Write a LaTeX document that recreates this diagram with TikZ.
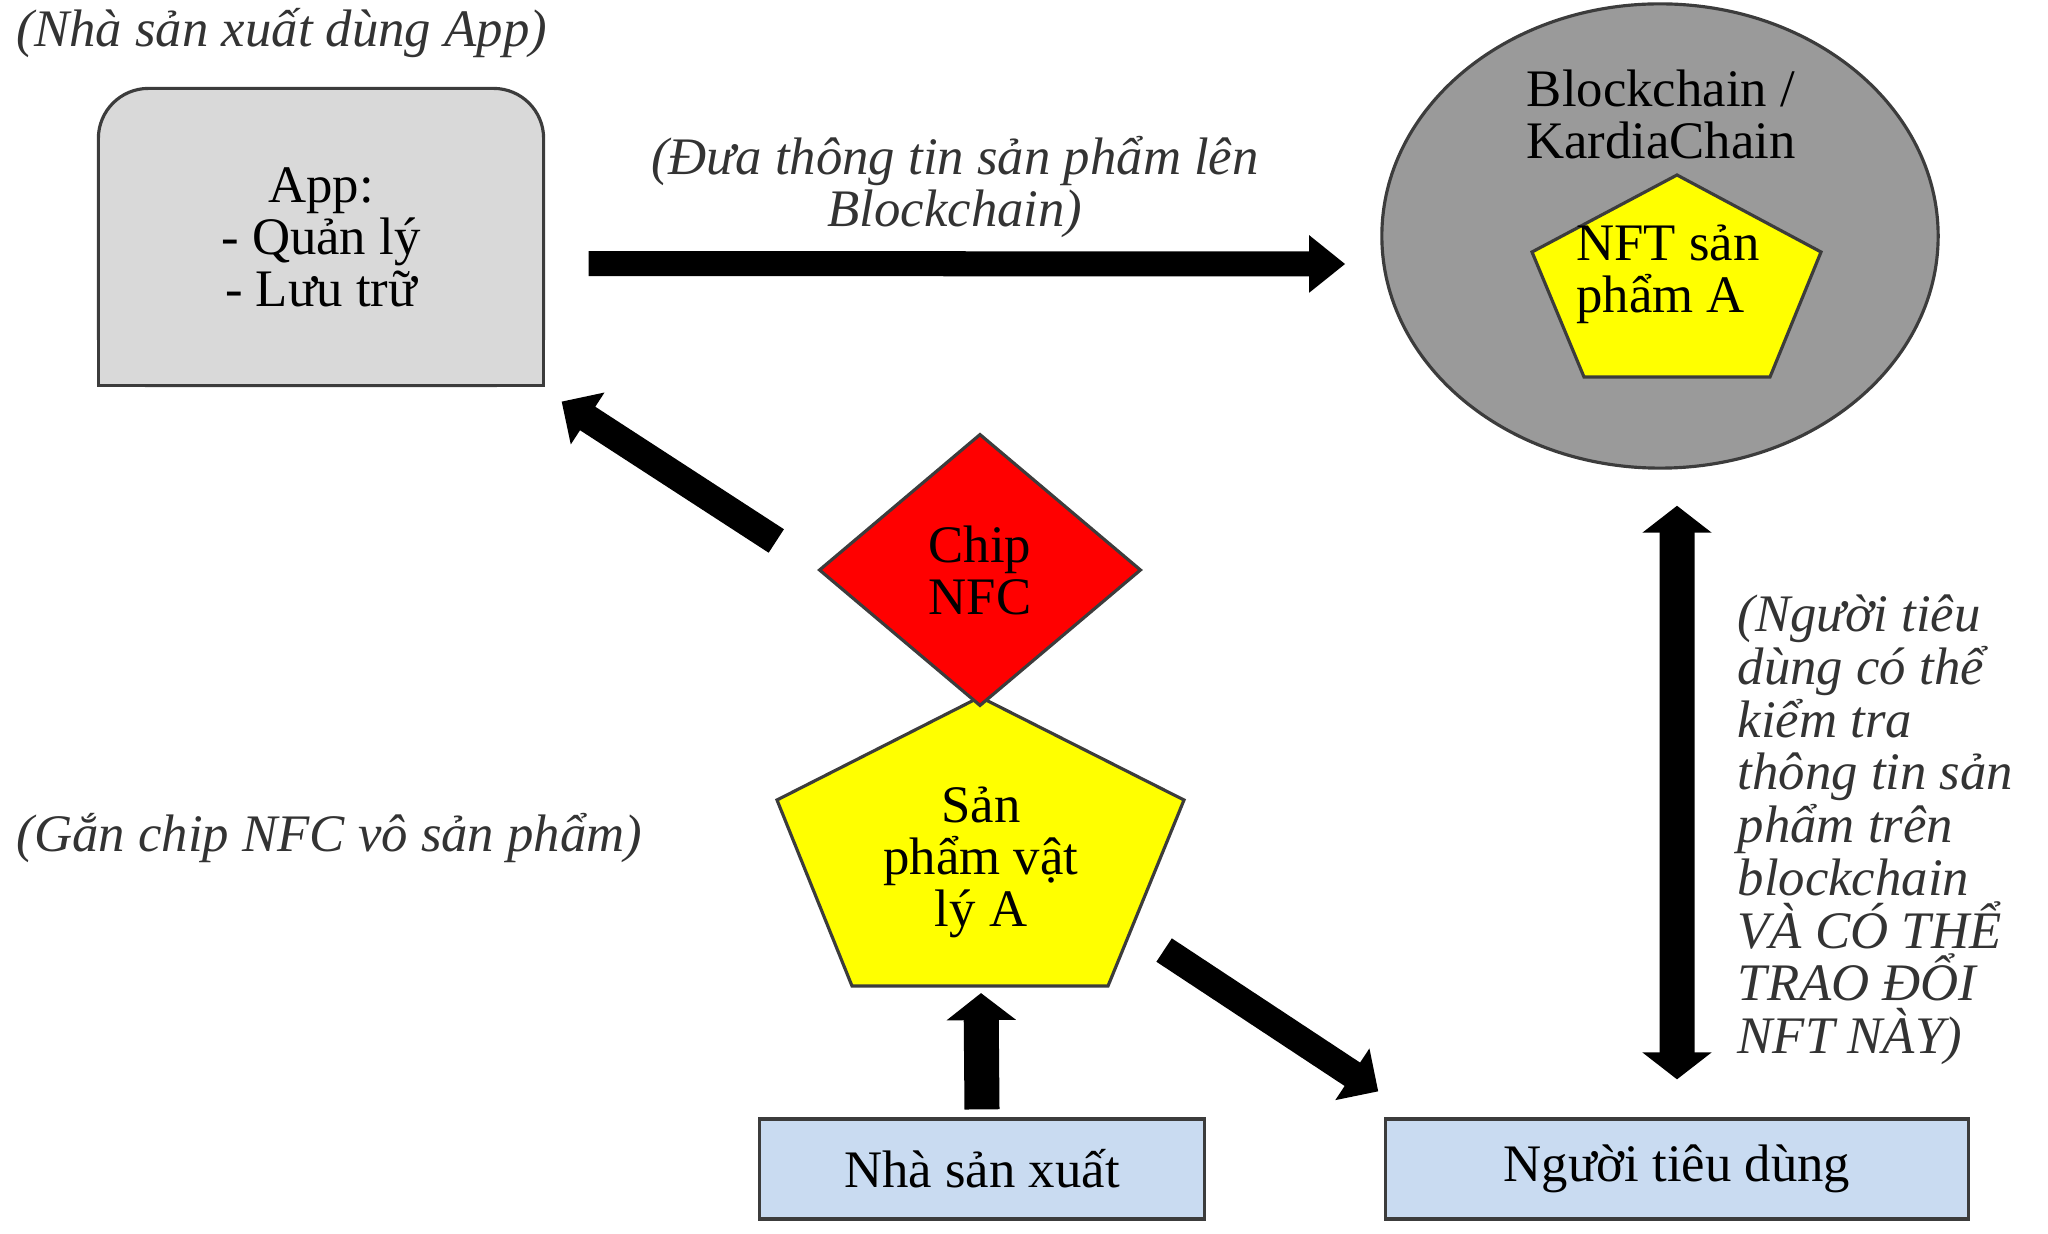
\documentclass[tikz,border=0pt]{standalone}
\usepackage{fontspec}
\setmainfont{Liberation Serif}
\usetikzlibrary{arrows.meta,shapes.geometric}
\definecolor{appgray}{HTML}{D9D9D9}
\definecolor{chaingray}{HTML}{9A9A9A}
\definecolor{nftyellow}{HTML}{FFFF00}
\definecolor{chipred}{HTML}{FF0000}
\definecolor{boxblue}{HTML}{C9DBF1}
\definecolor{edgegray}{HTML}{3C3C3C}
\definecolor{notegray}{HTML}{333333}

\begin{document}
\begin{tikzpicture}[x=0.01cm,y=-0.01cm,
  every node/.style={font=\fontsize{15}{14.8}\selectfont},
  shapeline/.style={draw=edgegray,line width=0.9pt},
  note/.style={text=notegray,inner sep=0pt,font=\fontsize{15}{15}\selectfont\itshape},
  flat/.style={line width=0.25cm,-{Triangle[width=0.55cm,length=0.36cm]}},
  slant/.style={line width=0.28cm,-{Triangle[width=0.6cm,length=0.31cm]}},
  upright/.style={line width=0.35cm,-{Triangle[width=0.68cm,length=0.27cm]}}]
\useasboundingbox (0,0) rectangle (2048,1234);

% app box, rounded on top only
\node[shapeline,fill=appgray,rounded corners=0.5cm,outer sep=0pt,minimum width=4.45cm,minimum height=2.97cm,align=center] (app) at (321,237) {App:\\- Quản lý\\- Lưu trữ};
\fill[appgray] ([yshift=0.6cm]app.south west) rectangle (app.south east);
\draw[shapeline] ([yshift=0.6cm]app.south west) |- (app.south east) -- ([yshift=0.6cm]app.south east);

% blockchain
\node[ellipse,shapeline,fill=chaingray,minimum width=5.56cm,minimum height=4.64cm] (chain) at (1660,236) {};
\node[align=center] (chainlbl) at (1661,114) {Blockchain /\\KardiaChain};
\draw[shapeline,fill=nftyellow] (1677,175) -- (1821,252) -- (1770,377) -- (1584,377) -- (1532,252) -- cycle;
\node[align=left] (nft) at (1668,274) {NFT sản\\phẩm A};

% product and chip
\draw[shapeline,fill=nftyellow] (980,697) -- (1184,800) -- (1108,986) -- (852,986) -- (777,800) -- cycle;
\node[align=center] (prod) at (981,862) {Sản\\phẩm vật\\lý A};
\node[diamond,shapeline,fill=chipred,minimum width=3.22cm,minimum height=2.72cm,inner sep=0pt,align=center] (chip) at (980,570) {Chip\\NFC};

% actors
\node[shapeline,fill=boxblue,minimum width=4.45cm,minimum height=1cm] (maker) at (982,1169) {Nhà sản xuất};
\node[shapeline,fill=boxblue,minimum width=5.82cm,minimum height=1cm] (user) at (1677,1169) {Người tiêu dùng};

% notes
\node[note,anchor=west] (applbl) at (16,33) {(Nhà sản xuất dùng App)};
\node[note,align=center] (uplbl) at (955,187) {(Đưa thông tin sản phẩm lên\\Blockchain)};
\node[note,anchor=west] (taglbl) at (16,838) {(Gắn chip NFC vô sản phẩm)};
\node[note,anchor=west,align=left] (checklbl) at (1737,830) {(Người tiêu\\dùng có thể\\kiểm tra\\thông tin sản\\phẩm trên\\blockchain\\VÀ CÓ THỂ\\TRAO ĐỔI\\NFT NÀY)};

% arrows
\draw[flat] ([xshift=0.45cm,yshift=-0.265cm]app.east) -- ([xshift=-0.35cm,yshift=-0.28cm]chain.west);
\draw[slant] ([xshift=-0.41cm,yshift=0.29cm]chip.west) -- ([xshift=0.18cm,yshift=-0.16cm]app.south east);
\draw[slant] ([xshift=1.83cm,yshift=-0.88cm]prod.center) -- ([xshift=-0.06cm,yshift=0.26cm]user.north west);
\draw[upright] ([yshift=0.08cm]maker.north) -- ([yshift=-1.31cm]prod.center);
\draw[upright,{Triangle[width=0.68cm,length=0.27cm]}-{Triangle[width=0.68cm,length=0.27cm]}] ([xshift=0.17cm,yshift=-0.36cm]chain.south) -- ([yshift=0.38cm]user.north);
\end{tikzpicture}
\end{document}
